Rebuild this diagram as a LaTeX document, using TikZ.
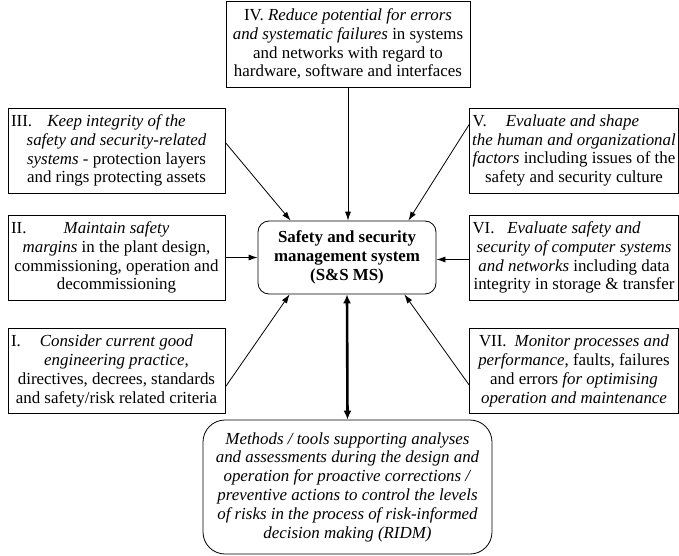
\documentclass[tikz,border=0pt]{standalone}
\usepackage{fontspec}
\setmainfont{Liberation Serif}
\usetikzlibrary{arrows.meta,calc}
\newcommand{\numc}[3]{\makebox[#1]{\rlap{#2}\hfill#3\hfill}}
\begin{document}
\begin{tikzpicture}[x=1pt,y=-1pt,
  txt/.style={font=\fontsize{16.9}{18.8}\selectfont},
  box/.style={txt,draw,line width=0.7pt,inner sep=0pt,align=center,minimum height=85pt},
  lbox/.style={box,minimum width=217pt},
  rbox/.style={box,minimum width=209pt},
  cbox/.style={draw,line width=0.8pt,rounded corners=11pt,inner sep=0pt,align=center,
    font=\fontsize{16.9}{18.8}\selectfont\bfseries,minimum width=178pt,minimum height=73pt},
  bbox/.style={txt,draw,line width=0.8pt,rounded corners=22pt,inner sep=0pt,align=center,
    minimum width=289pt,minimum height=134pt},
  arr/.style={line width=0.8pt,-{Latex[length=9pt,width=6pt]}},
  darr/.style={line width=2.6pt,{Latex[length=9pt,width=8pt]}-{Latex[length=9pt,width=8pt]}}]
\useasboundingbox (0,0) rectangle (679,556);
\fill[white] (0,0) rectangle (679,556);

\node[box,minimum width=244pt,minimum height=86pt] (IV) at (348,44)
  {IV. \textit{Reduce potential for errors}\\
   \textit{and systematic failures} in systems\\
   and networks with regard to\\
   hardware, software and interfaces};

\node[lbox] (III) at (116.5,150.5)
  {\numc{211pt}{III.}{\textit{Keep integrity of the}}\\
   \textit{safety and security-related}\\
   \textit{systems} - protection layers\\
   and rings protecting assets};

\node[lbox] (II) at (116.5,257.5)
  {\numc{211pt}{II.}{\textit{Maintain safety}}\\
   \textit{margins} in the plant design,\\
   commissioning, operation and\\
   decommissioning};

\node[lbox] (I) at (116.5,371)
  {\numc{211pt}{I.}{\textit{Consider current good}}\\
   \textit{engineering practice},\\
   directives, decrees, standards\\
   and safety/risk related criteria};

\node[rbox] (V) at (574,150.5)
  {\makebox[203pt][l]{V.\hspace{19pt}\textit{Evaluate and shape}}\\
   \textit{the human and organizational}\\
   \textit{factors} including issues of the\\
   safety and security culture};

\node[rbox] (VI) at (574,257.5)
  {\numc{203pt}{VI.}{\textit{Evaluate safety and}}\\
   \textit{security of computer systems}\\
   \textit{and networks} including data\\
   integrity in storage \& transfer};

\node[rbox] (VII) at (574,371)
  {VII.\hspace{8pt}\textit{Monitor processes and}\\
   \textit{performance}, faults, failures\\
   and errors \textit{for optimising}\\
   \textit{operation and maintenance}};

\node[cbox] (c) at (347,257.5)
  {Safety and security\\ management system\\ (S\&S MS)};

\node[bbox] (b) at (347.5,487)
  {\textit{Methods / tools supporting analyses}\\
   \textit{and assessments during the design and}\\
   \textit{operation for proactive corrections /}\\
   \textit{preventive actions to control the levels}\\
   \textit{of risks in the process of risk-informed}\\
   \textit{decision making (RIDM)}};

\draw[arr] ($(III.east)+(0,-8)$) -- ($(c.north west)+(33,0)$);
\draw[arr] (IV.south) -- (IV.south |- c.north);
\draw[arr] ($(V.west)+(0,-26)$) -- ($(c.north east)+(-28,0)$);
\draw[arr] (II.east) -- (c.west);
\draw[arr] ($(VI.west)+(0,2)$) -- ($(c.east)+(0,2)$);
\draw[arr] ($(I.east)+(0,16)$) -- ($(c.south west)+(32,0)$);
\draw[arr] ($(VII.west)+(0,14)$) -- ($(c.south east)+(-32,0)$);
\draw[darr] (c.south) -- (b.north);
\end{tikzpicture}
\end{document}
